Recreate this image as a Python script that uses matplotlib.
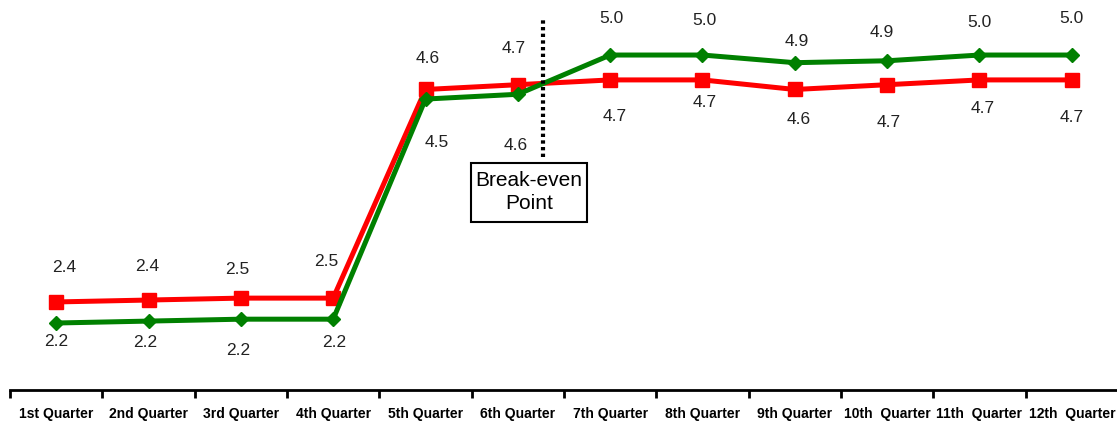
import numpy as np
import matplotlib.pyplot as plt
from matplotlib.patches import Rectangle

quarters = ['1st Quarter', '2nd Quarter', '3rd Quarter', '4th Quarter', '5th Quarter',
            '6th Quarter', '7th Quarter', '8th Quarter', '9th Quarter', '10th  Quarter',
            '11th  Quarter', '12th  Quarter']
red_vals = [2.42, 2.44, 2.46, 2.46, 4.64, 4.69, 4.74, 4.74, 4.64, 4.69, 4.74, 4.74]
green_vals = [2.20, 2.22, 2.24, 2.24, 4.54, 4.59, 5.00, 5.00, 4.92, 4.94, 5.00, 5.00]

# label offsets in pixels (dx, dy), dy positive = up
red_off = [(8, 34), (-1, 34), (-4, 29), (-7, 37), (2, 31), (-4, 36),
           (5, -37), (2, -23), (4, -30), (2, -38), (3, -29), (0, -38)]
green_off = [(0, -18), (-3, -21), (-3, -31), (1, -23), (11, -43), (-2, -51),
             (1, 37), (2, 35), (2, 21), (-5, 28), (0, 33), (0, 37)]

plt.rcParams['font.family'] = ['Liberation Sans', 'DejaVu Sans']

fig = plt.figure(figsize=(11.17, 4.21), dpi=100)
ax = fig.add_axes([10 / 1117, 31 / 421, 1108 / 1117, 390 / 421])

x = np.arange(len(quarters))
ax.plot(x, red_vals, color='#ff0000', lw=3.6, marker='s', ms=10, zorder=3)
ax.plot(x, green_vals, color='#008000', lw=3.6, marker='D', ms=7.5, zorder=3)

for i in range(len(x)):
    ax.annotate(f'{red_vals[i]:.1f}', (x[i], red_vals[i]), xytext=red_off[i],
                textcoords='offset pixels', ha='center', va='center', fontsize=12.5, color='#222222')
    ax.annotate(f'{green_vals[i]:.1f}', (x[i], green_vals[i]), xytext=green_off[i],
                textcoords='offset pixels', ha='center', va='center', fontsize=12.5, color='#222222')

# break-even marker
ax.plot([5.27, 5.27], [3.93, 5.39], color='black', lw=3, ls=(0, (0.8, 0.8)), zorder=4)
ax.add_patch(Rectangle((4.491, 3.255), 1.256, 0.617, fc='white', ec='black', lw=1.5, zorder=4))
ax.text(5.12, 3.57, 'Break-even\nPoint', ha='center', va='center', fontsize=15,
        linespacing=1.3, zorder=5)

ax.set_xlim(-0.5, 11.5)
ax.set_ylim(1.5, 5.575)
for s in ['top', 'right', 'left']:
    ax.spines[s].set_visible(False)
ax.spines['bottom'].set_linewidth(2)
ax.set_yticks([])
ax.set_xticks(x)
ax.set_xticklabels(quarters, fontsize=10, fontweight='bold')
ax.tick_params(axis='x', which='major', length=0, pad=12)
ax.set_xticks(np.arange(-0.5, 12, 1), minor=True)
ax.tick_params(axis='x', which='minor', length=6, width=2, direction='out')

fig.savefig('out.png', dpi=100)
